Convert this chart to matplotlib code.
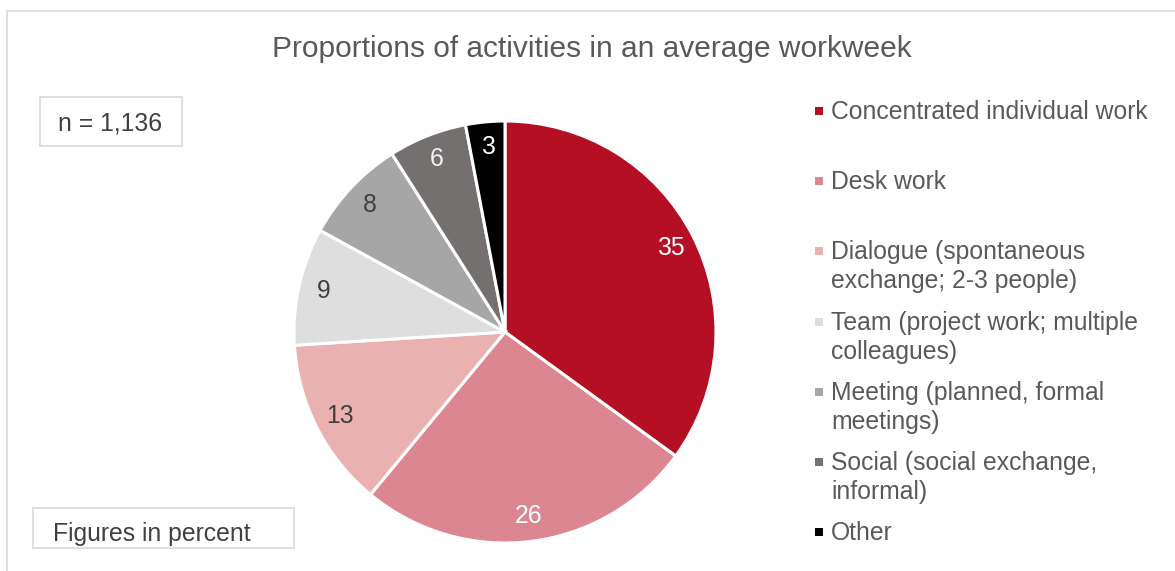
import matplotlib.pyplot as plt
from matplotlib.patches import Rectangle

plt.rcParams['font.family'] = ['Liberation Sans', 'DejaVu Sans']

# share of the average workweek, percent
activities = [
    "Concentrated individual work",
    "Desk work",
    "Dialogue (spontaneous\nexchange; 2-3 people)",
    "Team (project work; multiple\ncolleagues)",
    "Meeting (planned, formal\nmeetings)",
    "Social (social exchange,\ninformal)",
    "Other",
]
shares = [35, 26, 13, 9, 8, 6, 3]
colors = ["#B50F23", "#DB8690", "#E9B2B1", "#DEDEDE", "#A6A6A6", "#747070", "#000000"]
label_colors = ["white", "white", "#404040", "#404040", "#404040", "#F2F2F2", "white"]

W, H = 1175, 571
fig = plt.figure(figsize=(W / 100, H / 100), dpi=100)


def fx(px):
    return px / W


def fy(py):
    return 1 - py / H


# chart frame
fig.patches.append(Rectangle((fx(7), fy(600)), fx(1200), 589 / H,
                             transform=fig.transFigure, fill=False,
                             edgecolor="#D9D9D9", linewidth=1.2))

fig.text(fx(592), fy(49), "Proportions of activities in an average workweek",
         ha="center", va="center", fontsize=21.5, color="#595959")

# pie
cx, cy, r = 505, 332, 211
ax = fig.add_axes([fx(cx - r), fy(cy + r), 2 * r / W, 2 * r / H])
wedges, _, autotexts = ax.pie(
    shares, colors=colors, startangle=90, counterclock=False,
    autopct=lambda p: f"{p:.0f}", pctdistance=0.88,
    wedgeprops=dict(edgecolor="white", linewidth=2.2),
    textprops=dict(fontsize=17.8),
)
for t, c in zip(autotexts, label_colors):
    t.set_color(c)
ax.set_xlim(-1, 1)
ax.set_ylim(-1, 1)
ax.set_aspect("equal")
ax.axis("off")

# legend
for i, (name, c) in enumerate(zip(activities, colors)):
    y0 = 112 + i * 70.2
    fig.patches.append(Rectangle((fx(815), fy(y0 + 3)), 8 / W, 8 / H,
                                 transform=fig.transFigure, facecolor=c,
                                 edgecolor="none"))
    for j, line in enumerate(name.split("\n")):
        fig.text(fx(831), fy(y0 + j * 29), line, ha="left", va="center",
                 fontsize=17.8, color="#595959")

# sample size box
fig.patches.append(Rectangle((fx(40), fy(146)), 142 / W, 49 / H,
                             transform=fig.transFigure, fill=False,
                             edgecolor="#D9D9D9", linewidth=1.2))
fig.text(fx(110), fy(123), "n = 1,136", ha="center", va="center",
         fontsize=17.8, color="#404040")

# unit note
fig.patches.append(Rectangle((fx(33), fy(548)), 261 / W, 40 / H,
                             transform=fig.transFigure, fill=False,
                             edgecolor="#D9D9D9", linewidth=1.2))
fig.text(fx(53), fy(534), "Figures in percent", ha="left", va="center",
         fontsize=17.8, color="#404040")

fig.savefig("out.png", dpi=100)
